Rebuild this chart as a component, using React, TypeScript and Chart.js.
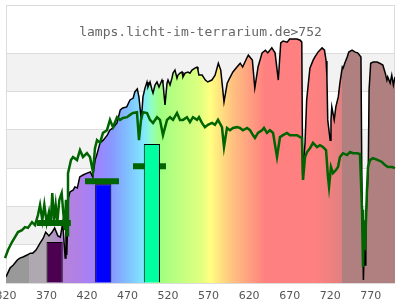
import React, { useEffect, useRef } from "react";
import { Chart, registerables } from "chart.js";

Chart.register(...registerables);

const TITLE = "lamps.licht-im-terrarium.de>752";

const xTickLabels = [320, 370, 420, 470, 520, 570, 620, 670, 720, 770];

// reference spectrum (black line)
const refWl = [320,325,329,334,337,341,346,350,353,357,362,366,369,373,377,380,384,387,390,393,394,395,397,399,403,405,408,411,415,420,424,427,430,432,436,440,445,448,452,457,461,464,469,473,477,479,482,484,487,489,491.5,494,495.2,497.7,500.2,501.4,503.9,506.3,508.8,512.5,513.7,516.2,518.7,519.9,522.4,524.8,526.1,528.5,531,532.2,534.7,537.2,538.4,540.9,544.6,547,549.5,553.2,555.7,556.9,558,562,566,569,574,578,582,585,589,593,596,600,605,609,612,617,619,624,627,631,636,640,643,648,652,656,659,662,667,670,674,679,683,685,686,689,691,695,699,701,705,710,713,715,716,717,720,721,722,725,727,730,732,735,736,738,741,743,747,751,754,758,759,761,762,763,764,767,768,770,773,778,781,785,788,790,791,794,796,798,800];
const refVal = [1.6,3.9,4.7,6.0,6.5,6.8,7.3,7.8,7.8,8.6,10.4,11.7,13.3,12.3,13.3,14.4,12.3,12.0,15.7,6.5,17.8,7.3,22.2,23.8,24.3,25.1,24.8,27.7,28.2,28.7,29.0,27.7,32.1,33.4,36.6,37.3,38.6,39.9,40.5,41.8,45.2,45.7,46.0,47.8,48.3,49.9,50.7,48.6,42.6,48.6,50.9,52.5,51.2,52.5,50.4,49.6,51.7,52.5,51.2,53.0,52.2,46.5,52.2,53.0,51.7,53.5,54.8,55.6,53.5,54.3,54.8,55.1,53.8,54.8,55.1,54.8,55.6,56.1,56.4,55.6,54.3,54.3,53.0,52.5,53.0,54.3,57.4,55.6,47.3,52.2,53.5,55.1,56.4,57.4,56.4,58.7,59.5,58.2,50.9,56.4,60.1,60.8,60.1,61.4,60.1,53.0,62.7,63.2,62.9,63.7,63.7,63.7,63.4,62.9,28.2,36.6,47.8,56.1,58.2,59.0,60.3,61.4,60.8,58.0,53.8,42.6,37.3,42.6,46.0,42.6,46.0,48.6,52.2,56.4,56.1,57.4,59.0,60.3,60.8,60.3,60.1,59.0,29.5,0.8,8.6,4.7,16.4,29.5,50.4,57.4,57.7,57.7,57.4,56.9,54.8,53.0,53.8,52.2,54.3,51.7,53.8];

// lamp spectrum (green line)
const lampWl = [312.6,318.8,322.5,327.4,331.1,334.8,339.7,343.4,347.1,352.1,355.8,359.5,362,364.8,367.3,370.2,373,375.1,377.1,379.2,381.3,383.3,385.8,388.7,390.7,392.8,394,395.3,396.5,400.2,402.7,407.6,411.3,415,419.9,423.6,427.3,429.8,432.3,436,439.7,444.6,448.3,452,457,460.7,464.4,469.3,473,476.7,481.6,484.1,486.6,489,494,497.7,501.4,506.3,510,513.7,518.7,522.4,526.1,531,534.7,538.4,543.3,547,550.7,555.7,558.1,561.8,565.5,569.2,574.2,577.9,581.6,586.5,589,592.7,596.4,600.1,605,608.7,612.4,617.4,621.1,624.8,627.2,630.9,635.9,638.3,642,645.7,649.5,654.4,658.1,661.8,666.7,670.4,674.1,679.1,682.8,685.2,686.5,689,691.5,695.1,698.8,703.8,707.4,711.1,714.9,717.3,718.6,721,723.5,727.2,729.7,732.1,735.8,740.8,744.5,748.2,753.1,756.8,759.3,760.5,761.7,763,765.4,766.7,769.1,772.8,779,783.9,787.7,791.3,796.3,800,803.7,806.2];
const lampVal = [3.4,6.5,8.6,10.7,12.0,13.3,13.8,14.6,14.4,15.9,15.1,17.8,20.4,16.4,20.4,15.7,18.5,15.1,23.5,16.4,20.4,15.9,21.7,23.5,18.3,13.8,21.7,12.5,28.7,32.1,32.9,32.1,34.7,32.9,33.9,32.9,29.0,35.2,37.3,36.6,39.2,39.9,42.6,40.7,43.3,42.6,43.1,43.3,43.9,44.4,44.6,37.3,42.6,44.6,44.4,42.6,41.8,43.3,42.6,38.6,42.6,43.3,42.6,44.4,42.6,42.6,43.3,42.0,43.3,42.6,43.3,41.8,40.7,41.3,41.8,41.3,42.6,40.7,35.5,40.5,39.9,40.5,40.7,40.5,39.9,40.5,39.9,38.6,37.9,39.2,39.9,40.5,39.2,39.9,39.2,32.9,38.1,38.6,39.2,38.6,38.6,38.6,38.1,37.9,26.9,32.9,34.2,35.2,36.6,35.5,36.0,35.5,34.7,27.7,25.1,30.3,28.7,29.5,30.3,32.9,33.9,33.4,34.2,33.9,33.9,33.7,19.1,4.2,16.4,8.6,24.3,30.3,32.1,32.6,32.1,31.6,30.8,30.3,30.3,30.0,29.5,29.5];

// LED bars
const barCenters = [380, 440, 500];
const barHeights = [10.7, 25.8, 36.3];
const barWidthNm = 20;

// green level markers
const markerFrom = [358, 417.5, 476.7];
const markerTo = [400, 459.4, 517.4];
const markerLevels = [15.7, 26.6, 30.5];

// styles
const BAR_COLORS = ["#4b0050", "#0000ff", "#00ffa0"];
const GRADIENT_STOPS: [number, string][] = [
  [320, "#999999"], [348, "#999999"], [348.01, "#b0a8b0"], [369, "#b0a8b0"],
  [390, "#b484d8"], [410, "#b080e8"], [430, "#a080ff"], [450, "#8898ff"],
  [470, "#80c0ff"], [490, "#80e8ff"], [500, "#90ffc0"], [510, "#a0ff80"],
  [535, "#c0ff80"], [560, "#e0ff80"], [572, "#ffff80"], [585, "#ffe080"],
  [600, "#ffc080"], [620, "#ffa080"], [640, "#ff8080"], [700, "#ff8080"],
  [720, "#f08080"], [734, "#e08080"], [734.5, "#b08080"], [800, "#b08080"],
];
const Y_MAX = 72.6;
const GRAY_BANDS: [number, number][] = [[10, 20], [30, 40], [50, 60]];

const bgPlugin = {
  id: "bgBands",
  beforeDraw(chart: any) {
    const { ctx, chartArea, scales } = chart;
    if (!chartArea) return;
    const y = scales.y;
    ctx.save();
    ctx.fillStyle = "#f2f2f2";
    for (const [a, b] of GRAY_BANDS) {
      const y1 = y.getPixelForValue(b);
      const y2 = y.getPixelForValue(a);
      ctx.fillRect(chartArea.left, y1, chartArea.right - chartArea.left, y2 - y1);
    }
    ctx.strokeStyle = "#dcdcdc";
    ctx.lineWidth = 1;
    ctx.strokeRect(Math.round(chartArea.left) + 0.5, Math.round(chartArea.top) + 0.5,
      Math.round(chartArea.right - chartArea.left) - 1, Math.round(chartArea.bottom - chartArea.top));
    ctx.fillStyle = "#666666";
    ctx.font = "13px 'DejaVu Sans Mono', monospace";
    ctx.textAlign = "center";
    ctx.textBaseline = "alphabetic";
    ctx.fillText(TITLE, (chartArea.left + chartArea.right) / 2, chartArea.top + 31);
    ctx.restore();
  },
};

export default function App() {
  const ref = useRef<HTMLCanvasElement | null>(null);
  useEffect(() => {
    if (!ref.current) return;
    const chart = new Chart(ref.current, {
      type: "line",
      data: {
        datasets: [
          {
            type: "bar",
            data: barCenters.map((x, i) => ({ x, y: barHeights[i] })),
            backgroundColor: BAR_COLORS,
            borderColor: "#000000",
            borderWidth: 1,
            categoryPercentage: 1,
            barPercentage: barWidthNm / 50,
            order: 0,
          } as any,
          {
            type: "line",
            data: markerFrom.flatMap((x0, i) => [
              { x: x0, y: markerLevels[i] },
              { x: markerTo[i], y: markerLevels[i] },
              { x: markerTo[i] + 1, y: null },
            ]),
            borderColor: "#006400",
            borderWidth: 6,
            pointRadius: 0,
            spanGaps: false,
            order: 1,
          } as any,
          {
            type: "line",
            data: lampWl.map((x, i) => ({ x, y: lampVal[i] })),
            borderColor: "#006400",
            borderWidth: 2.5,
            pointRadius: 0,
            tension: 0,
            clip: false,
            order: 2,
          } as any,
          {
            type: "line",
            data: refWl.map((x, i) => ({ x, y: refVal[i] })),
            borderColor: "#000000",
            borderWidth: 1.5,
            pointRadius: 0,
            tension: 0,
            fill: "origin",
            backgroundColor: (c: any) => {
              const ch = c.chart;
              const area = ch.chartArea;
              const xs = ch.scales && ch.scales.x;
              if (!area || !xs) return "#ff8080";
              const x0 = xs.getPixelForValue(320);
              const x1 = xs.getPixelForValue(800);
              const g = ch.ctx.createLinearGradient(x0, 0, x1, 0);
              for (const [wl, col] of GRADIENT_STOPS) {
                g.addColorStop(Math.min(1, Math.max(0, (wl - 320) / 480)), col);
              }
              return g;
            },
            order: 3,
          } as any,
        ],
      },
      options: {
        animation: false,
        responsive: false,
        layout: { padding: { left: 6, right: 5, top: 5, bottom: 0 } },
        plugins: { legend: { display: false }, tooltip: { enabled: false }, title: { display: false } },
        scales: {
          x: {
            type: "linear",
            min: 320,
            max: 800,
            offset: false,
            grid: { display: false, drawTicks: false },
            border: { display: false },
            afterBuildTicks: (s: any) => {
              s.ticks = xTickLabels.map((v) => ({ value: v }));
            },
            afterFit: (s: any) => {
              s.height = 17;
              s.paddingLeft = 0;
              s.paddingRight = 0;
            },
            ticks: {
              color: "#555555",
              padding: 7,
              maxRotation: 0,
              autoSkip: false,
              font: { family: "'DejaVu Sans'", size: 11 },
              callback: (v: any) => String(v),
            },
          },
          y: {
            type: "linear",
            min: 0,
            max: Y_MAX,
            grid: { color: "#dcdcdc", drawTicks: false, lineWidth: 1 },
            border: { display: false },
            ticks: { display: false, stepSize: 10 },
          },
        },
      },
      plugins: [bgPlugin],
    } as any);
    return () => chart.destroy();
  }, []);
  return (
    <div style={{ position: "fixed", left: 0, top: 0, width: 400, height: 300, background: "#fff" }}>
      <canvas ref={ref} width={400} height={300} />
    </div>
  );
}
